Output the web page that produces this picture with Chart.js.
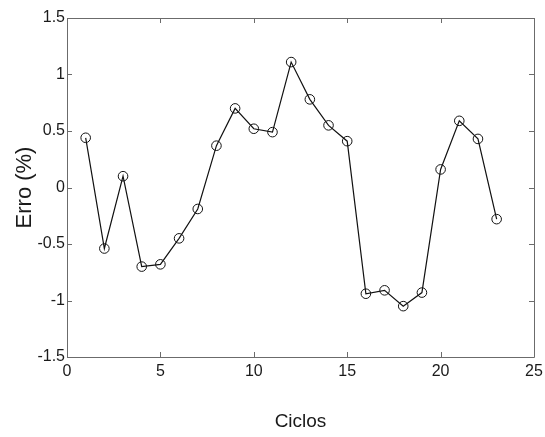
<!DOCTYPE html>
<html>
<head>
<meta charset="utf-8">
<title>Erro por ciclo</title>
<script src="https://cdn.jsdelivr.net/npm/chart.js@4/dist/chart.umd.min.js"></script>
<style>
  html, body { margin: 0; padding: 0; background: #fff; }
  #wrap { width: 545px; height: 437px; }
</style>
</head>
<body>
<div id="wrap"><canvas id="grafico" width="545" height="437"></canvas></div>
<script>
// dados
const ciclos = [1, 2, 3, 4, 5, 6, 7, 8, 9, 10, 11, 12, 13, 14, 15, 16, 17, 18, 19, 20, 21, 22, 23];
const erro = [0.44, -0.54, 0.10, -0.70, -0.68, -0.45, -0.19, 0.37, 0.70, 0.52, 0.49, 1.11,
              0.78, 0.55, 0.41, -0.94, -0.91, -1.05, -0.93, 0.16, 0.59, 0.43, -0.28];

const xTicks = [0, 5, 10, 15, 20, 25];
const xTickLabels = ['0', '5', '10', '15', '20', '25'];
const yTicks = [-1.5, -1, -0.5, 0, 0.5, 1, 1.5];
const yTickLabels = ['-1.5', '-1', '-0.5', '0', '0.5', '1', '1.5'];

const corEixo = '#6b6b6b';
const corTexto = '#1a1a1a';
const fonte = '"Liberation Sans", Arial, sans-serif';

function rotulo(valores, rotulos) {
    return v => {
        const i = valores.findIndex(t => Math.abs(t - v) < 1e-9);
        return i >= 0 ? rotulos[i] : '';
    };
}

// caixa à volta do gráfico e marcas para dentro (estilo MATLAB)
const caixaMatlab = {
    id: 'caixaMatlab',
    afterDatasetsDraw(chart) {
        const { ctx, chartArea: a, scales } = chart;
        const L = 5;
        ctx.save();
        ctx.strokeStyle = corEixo;
        ctx.lineWidth = 1;
        ctx.beginPath();
        ctx.rect(Math.round(a.left) + 0.5, Math.round(a.top) + 0.5,
                 Math.round(a.right - a.left), Math.round(a.bottom - a.top));
        xTicks.forEach(v => {
            const px = Math.round(scales.x.getPixelForValue(v)) + 0.5;
            ctx.moveTo(px, a.bottom); ctx.lineTo(px, a.bottom - L);
            ctx.moveTo(px, a.top); ctx.lineTo(px, a.top + L);
        });
        yTicks.forEach(v => {
            const py = Math.round(scales.y.getPixelForValue(v)) + 0.5;
            ctx.moveTo(a.left, py); ctx.lineTo(a.left + L, py);
            ctx.moveTo(a.right, py); ctx.lineTo(a.right - L, py);
        });
        ctx.stroke();
        ctx.restore();
    }
};

new Chart(document.getElementById('grafico'), {
    type: 'line',
    data: {
        datasets: [{
            data: ciclos.map((c, i) => ({ x: c, y: erro[i] })),
            borderColor: '#111',
            borderWidth: 1.2,
            pointStyle: 'circle',
            pointRadius: 4.8,
            pointBorderWidth: 1,
            pointBorderColor: '#111',
            pointBackgroundColor: 'rgba(0,0,0,0)',
            tension: 0,
            fill: false
        }]
    },
    options: {
        responsive: false,
        animation: false,
        layout: { padding: { left: 0, top: 18, right: 11, bottom: 0 } },
        plugins: { legend: { display: false }, tooltip: { enabled: false } },
        scales: {
            x: {
                type: 'linear',
                min: 0, max: 25,
                afterBuildTicks: s => { s.ticks = xTicks.map(v => ({ value: v })); },
                afterFit: s => { s.height = 80; s.paddingRight = 0; s.paddingLeft = 0; },
                grid: { display: false, drawTicks: false },
                border: { display: false },
                ticks: {
                    padding: 5,
                    maxRotation: 0,
                    color: corTexto,
                    font: { family: fonte, size: 16 },
                    callback: rotulo(xTicks, xTickLabels)
                },
                title: {
                    display: true,
                    text: 'Ciclos',
                    color: corTexto,
                    font: { family: fonte, size: 19 },
                    padding: { top: 0, bottom: 4 }
                }
            },
            y: {
                type: 'linear',
                min: -1.5, max: 1.5,
                afterBuildTicks: s => { s.ticks = yTicks.map(v => ({ value: v })); },
                afterFit: s => { s.width = 67; s.paddingTop = 0; s.paddingBottom = 0; },
                grid: { display: false, drawTicks: false },
                border: { display: false },
                ticks: {
                    padding: 2,
                    color: corTexto,
                    font: { family: fonte, size: 16 },
                    callback: rotulo(yTicks, yTickLabels)
                },
                title: {
                    display: true,
                    text: 'Erro (%)',
                    color: corTexto,
                    font: { family: fonte, size: 22 },
                    padding: { top: 12, bottom: 0 }
                }
            }
        }
    },
    plugins: [caixaMatlab]
});
</script>
</body>
</html>
